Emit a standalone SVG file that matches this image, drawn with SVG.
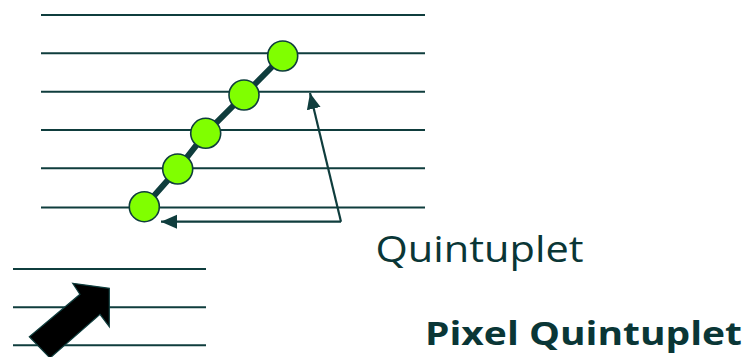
<svg xmlns="http://www.w3.org/2000/svg" width="748" height="357" viewBox="0 0 748 357">
<style>
.track{stroke:#0f3d3d;stroke-width:2;fill:none}
.hit{fill:#80ff00;stroke:#0f3d3d;stroke-width:1.6}
.link{stroke:#0f3d3d;stroke-width:6;fill:none}
.conn{stroke:#0f3d3d;stroke-width:2.2;fill:none;marker-end:url(#ah)}
.lbl{font-family:"Open Sans","Noto Sans",sans-serif;fill:#0a3636}
</style>
<defs>
<marker id="ah" markerUnits="userSpaceOnUse" markerWidth="18" markerHeight="16" refX="16" refY="8" orient="auto">
<path d="M0,1 L16,8 L0,15 Z" fill="#0f3d3d"/>
</marker>
</defs>
<rect width="748" height="357" fill="#ffffff"/>
<g id="tracks">
<line class="track" x1="41" y1="15" x2="425" y2="15"/>
<line class="track" x1="41" y1="53.3" x2="425" y2="53.3"/>
<line class="track" x1="41" y1="91.7" x2="425" y2="91.7"/>
<line class="track" x1="41" y1="130" x2="425" y2="130"/>
<line class="track" x1="41" y1="168.3" x2="425" y2="168.3"/>
<line class="track" x1="41" y1="207.5" x2="425" y2="207.5"/>
</g>
<g id="pixel-tracks">
<line class="track" x1="13" y1="269" x2="206" y2="269"/>
<line class="track" x1="13" y1="307.3" x2="206" y2="307.3"/>
<line class="track" x1="13" y1="345.3" x2="206" y2="345.3"/>
</g>
<g id="quintuplet">
<polyline class="link" points="144.3,206.7 177.7,169 205.7,133.3 244,95 282.7,56"/>
<circle class="hit" cx="282.7" cy="56" r="15"/>
<circle class="hit" cx="244" cy="95" r="15"/>
<circle class="hit" cx="205.7" cy="133.3" r="15"/>
<circle class="hit" cx="177.7" cy="169" r="15"/>
<circle class="hit" cx="144.3" cy="206.7" r="15"/>
</g>
<g id="connectors">
<line class="conn" x1="341" y1="221.7" x2="161" y2="221.7"/>
<line class="conn" x1="341" y1="221.7" x2="310" y2="93"/>
</g>
<g id="pixel-arrow">
<polygon points="72.7,283.3 109.3,288.3 109.3,326.7 100,314.3 50,358 29.3,336.7 80,294.3" fill="#000000" stroke="#0f3d3d" stroke-width="1.2" stroke-linejoin="miter"/>
</g>
<g id="labels">
<text class="lbl" x="375.5" y="262.3" font-size="37" textLength="208" lengthAdjust="spacingAndGlyphs">Quintuplet</text>
<text class="lbl" x="425" y="344.8" font-size="32.5" font-weight="bold" textLength="317" lengthAdjust="spacingAndGlyphs">Pixel Quintuplet</text>
</g>
</svg>
